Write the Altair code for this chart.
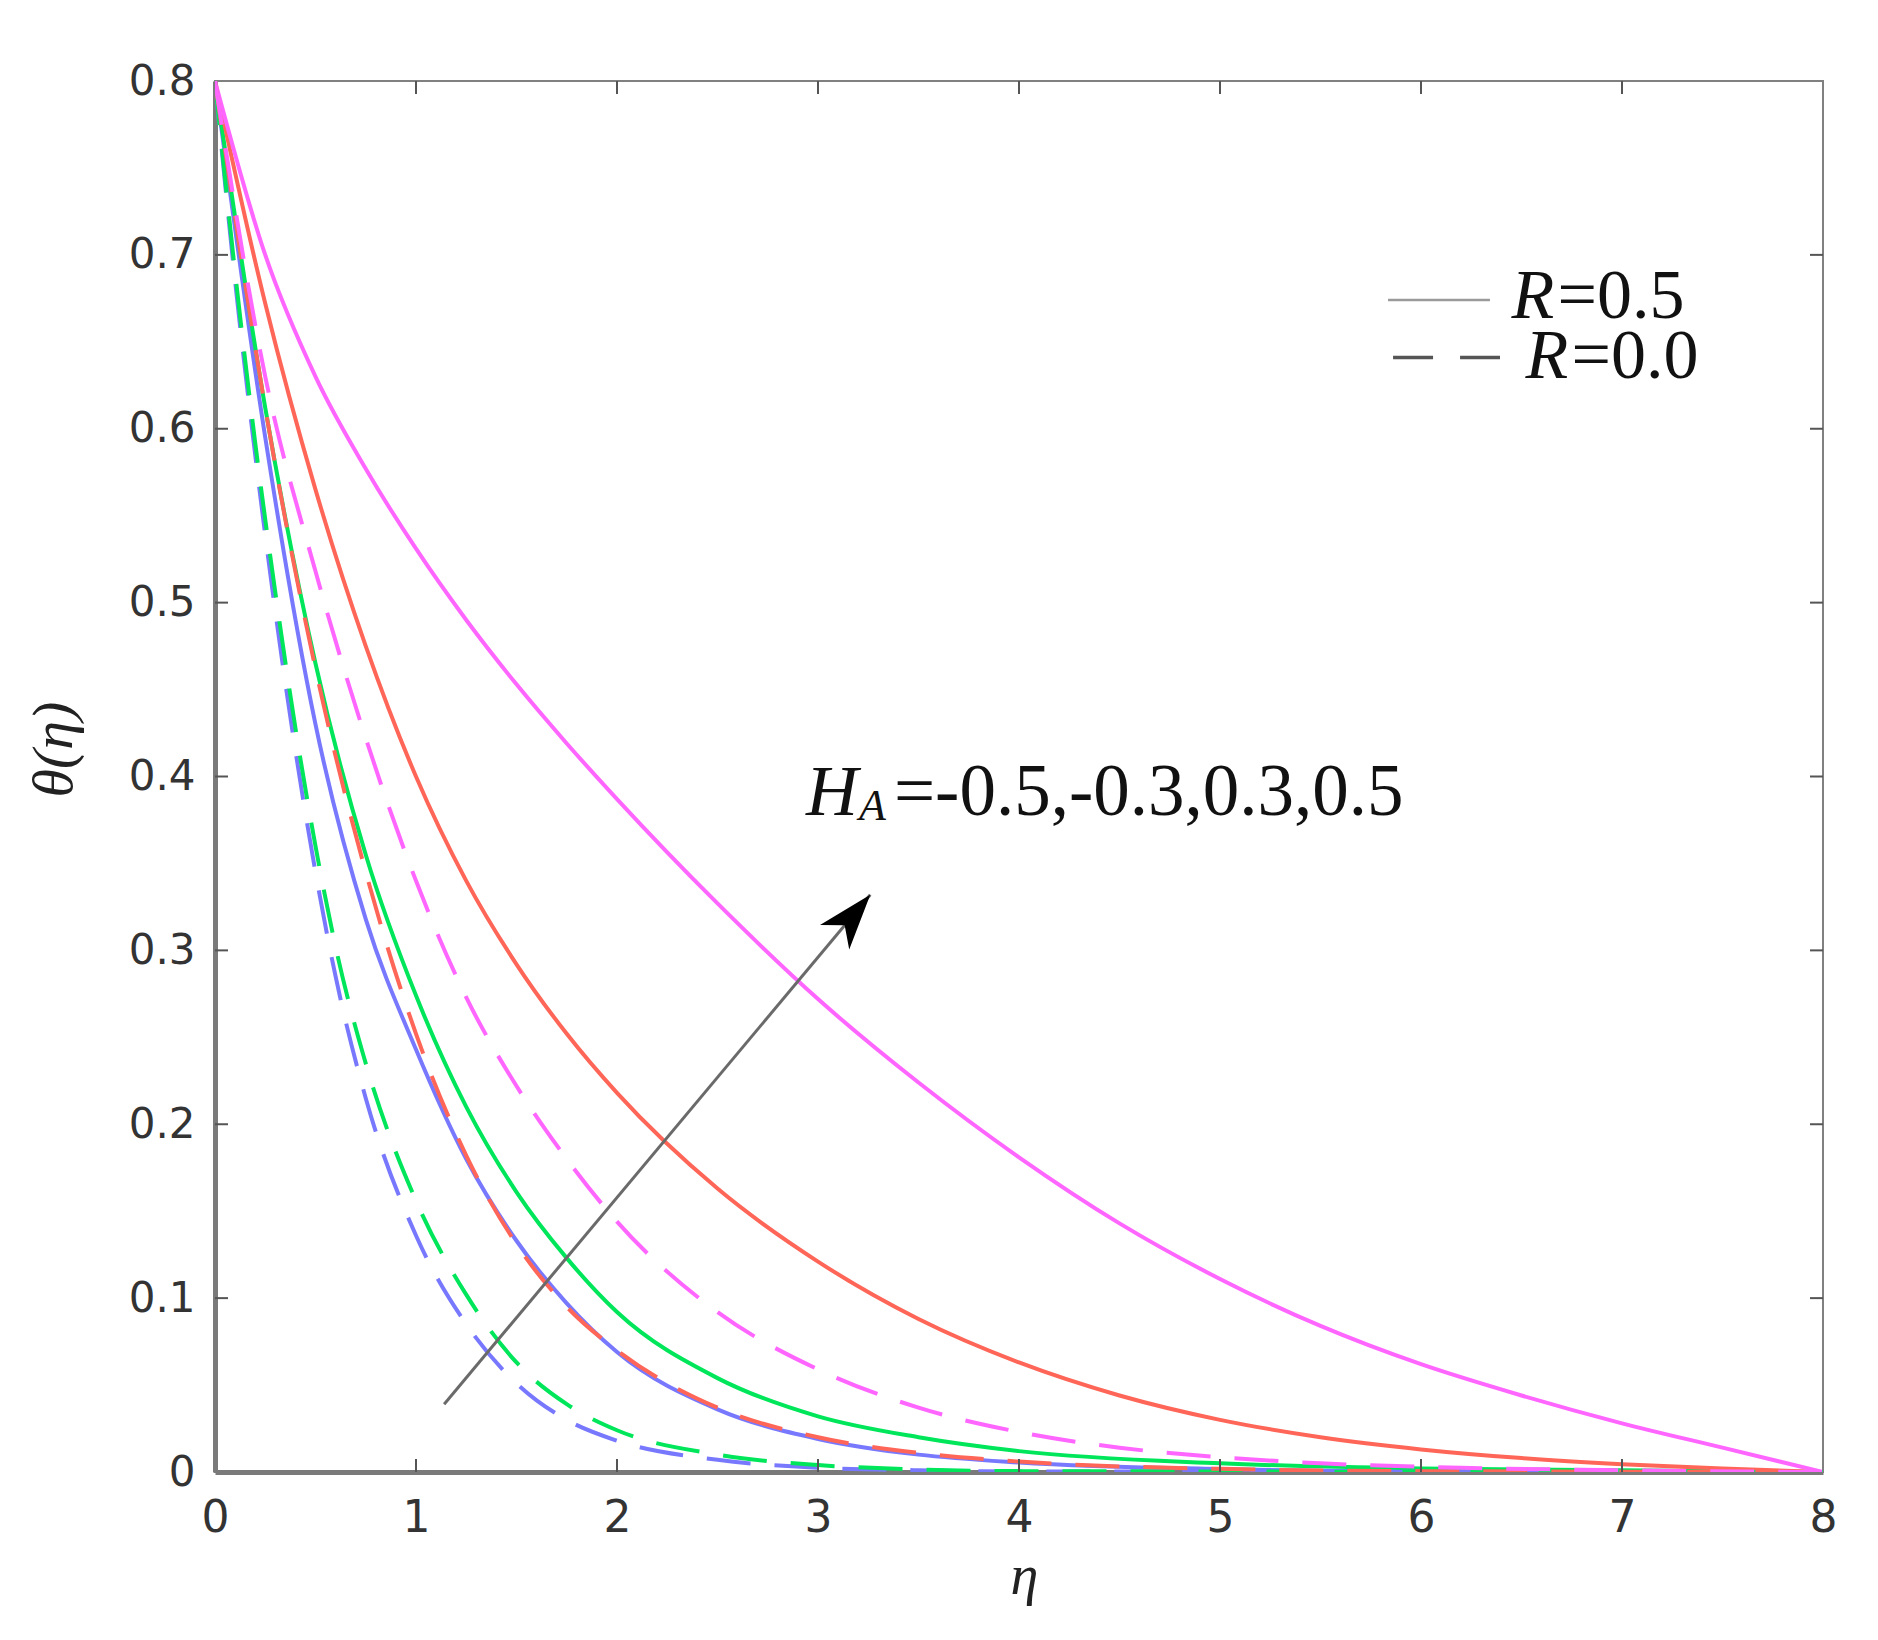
import altair as alt
import pandas as pd

W, H = 1608, 1391

X_TICKS = [0, 1, 2, 3, 4, 5, 6, 7, 8]
Y_TICKS = [0, 0.1, 0.2, 0.3, 0.4, 0.5, 0.6, 0.7, 0.8]

# ---- curves: theta(eta) ----
# R = 0.5 (solid)
ETA_MAG_S = [0, 0.25, 0.5, 0.75, 1, 1.25, 1.5, 1.75, 2, 2.5, 3, 3.5, 4, 4.5, 5, 5.5, 6, 6.5, 7, 7.5, 8]
TH_MAG_S = [0.800, 0.700, 0.630, 0.577, 0.531, 0.490, 0.453, 0.419, 0.387, 0.327, 0.272, 0.224, 0.181,
            0.143, 0.111, 0.084, 0.062, 0.044, 0.028, 0.014, 0.0]
ETA_RED_S = [0, 0.25, 0.5, 0.75, 1, 1.25, 1.5, 1.75, 2, 2.5, 3, 3.5, 4, 4.5, 5, 5.5, 6, 6.5, 7, 7.5, 8]
TH_RED_S = [0.800, 0.672, 0.565, 0.475, 0.400, 0.340, 0.292, 0.252, 0.218, 0.163, 0.121, 0.088, 0.063,
            0.044, 0.030, 0.020, 0.013, 0.008, 0.0045, 0.002, 0.0]
ETA_GRN_S = [0, 0.25, 0.5, 0.75, 1, 1.25, 1.5, 1.75, 2, 2.5, 3, 3.5, 4, 5, 6, 7, 8]
TH_GRN_S = [0.800, 0.612, 0.465, 0.355, 0.274, 0.210, 0.161, 0.123, 0.092, 0.054, 0.032, 0.020, 0.012,
            0.005, 0.002, 0.001, 0.0]
ETA_BLU_S = [0, 0.25, 0.5, 0.75, 1, 1.25, 1.5, 1.75, 2, 2.5, 3, 3.5, 4, 5, 6, 8]
TH_BLU_S = [0.800, 0.595, 0.430, 0.318, 0.243, 0.180, 0.133, 0.097, 0.069, 0.036, 0.019, 0.010, 0.0055,
            0.0017, 0.0005, 0.0]
# R = 0.0 (dashed)
ETA_MAG_D = [0, 0.25, 0.5, 0.75, 1, 1.25, 1.5, 1.75, 2, 2.5, 3, 3.5, 4, 4.5, 5, 5.5, 6, 7, 8]
TH_MAG_D = [0.800, 0.630, 0.518, 0.422, 0.340, 0.273, 0.222, 0.180, 0.144, 0.092, 0.059, 0.037, 0.023,
            0.014, 0.0085, 0.005, 0.003, 0.001, 0.0]
ETA_RED_D = [0, 0.25, 0.5, 0.75, 1, 1.25, 1.5, 1.75, 2, 2.5, 3, 3.5, 4, 5, 6, 8]
TH_RED_D = [0.800, 0.612, 0.462, 0.345, 0.252, 0.182, 0.131, 0.095, 0.070, 0.037, 0.020, 0.011, 0.006,
            0.0018, 0.0005, 0.0]
ETA_GRN_D = [0, 0.1, 0.2, 0.3, 0.4, 0.5, 0.6, 0.75, 1, 1.25, 1.5, 1.75, 2, 2.5, 3, 3.5, 4, 8]
TH_GRN_D = [0.800, 0.690, 0.592, 0.506, 0.428, 0.360, 0.302, 0.235, 0.156, 0.102, 0.063, 0.039, 0.024,
            0.010, 0.004, 0.0015, 0.0005, 0.0]
ETA_BLU_D = [0, 0.1, 0.2, 0.3, 0.4, 0.5, 0.6, 0.75, 1, 1.25, 1.5, 1.75, 2, 2.5, 3, 3.5, 4, 8]
TH_BLU_D = [0.800, 0.685, 0.585, 0.495, 0.415, 0.345, 0.285, 0.215, 0.136, 0.085, 0.051, 0.030, 0.018,
            0.007, 0.0025, 0.001, 0.0003, 0.0]

MAGENTA, RED, GREEN, BLUE = "#ff66ff", "#ff6658", "#00e65a", "#7878ff"
DASH = [44, 24]

SERIES = [
    (ETA_BLU_S, TH_BLU_S, BLUE, None),
    (ETA_GRN_S, TH_GRN_S, GREEN, None),
    (ETA_RED_S, TH_RED_S, RED, None),
    (ETA_MAG_S, TH_MAG_S, MAGENTA, None),
    (ETA_BLU_D, TH_BLU_D, BLUE, DASH),
    (ETA_GRN_D, TH_GRN_D, GREEN, DASH),
    (ETA_RED_D, TH_RED_D, RED, DASH),
    (ETA_MAG_D, TH_MAG_D, MAGENTA, DASH),
]

# annotation arrow (tail -> tip) and label
ARROW_ETA = [1.14, 3.26]
ARROW_TH = [0.039, 0.332]
HA_LABEL_POS = (2.94, 0.378)
HA_VALUES = "=-0.5,-0.3,0.3,0.5"

# in-plot legend
LEG_SOLID = (5.836, 6.343, 0.674)
LEG_DASH = (5.861, 6.393, 0.641)
LEG_TXT1 = (6.45, 0.6636, "=0.5")
LEG_TXT2 = (6.52, 0.629, "=0.0")

xs = alt.Scale(domain=[0, 8], nice=False, zero=False)
ys = alt.Scale(domain=[0, 0.8], nice=False, zero=False)

x_axis = alt.Axis(values=X_TICKS, format="d", title="η", ticks=False, tickSize=0, grid=False,
                  labelFont="DejaVu Sans", labelFontSize=44, labelColor="#333333",
                  labelPadding=24, labelFlush=False, labelOverlap=False,
                  domainColor="#7a7a7a", domainWidth=5,
                  titleFont="Liberation Serif", titleFontStyle="italic", titleFontWeight="normal",
                  titleFontSize=56, titleColor="#222222", titleX=809, titleY=104,
                  titleAlign="center", titleBaseline="middle")
y_axis = alt.Axis(values=Y_TICKS, format=".1~f", title="θ(η)", ticks=False, tickSize=0, grid=False,
                  labelFont="DejaVu Sans", labelFontSize=42, labelColor="#333333",
                  labelPadding=20, labelFlush=False, labelOverlap=False,
                  domainColor="#7a7a7a", domainWidth=5,
                  titleFont="Liberation Serif", titleFontStyle="italic", titleFontWeight="normal",
                  titleFontSize=58, titleColor="#222222", titleX=-161, titleY=668,
                  titleAngle=270, titleAlign="center", titleBaseline="middle")

layers = []
for i, (etas, ths, col, dash) in enumerate(SERIES):
    d = pd.DataFrame({"eta": etas, "theta": ths})
    kw = dict(color=col, strokeWidth=4, interpolate="monotone", clip=True)
    if dash:
        kw["strokeDash"] = dash
    if i == 0:
        enc = dict(x=alt.X("eta:Q", scale=xs, axis=x_axis), y=alt.Y("theta:Q", scale=ys, axis=y_axis))
    else:
        enc = dict(x=alt.X("eta:Q", scale=xs), y=alt.Y("theta:Q", scale=ys))
    layers.append(alt.Chart(d).mark_line(**kw).encode(**enc))

# inward ticks on all four sides
tx = pd.DataFrame({"eta": X_TICKS[1:-1]})
ty = pd.DataFrame({"theta": Y_TICKS[1:-1]})
tick_kw = dict(color="#555555", strokeWidth=2)
layers.append(alt.Chart(tx).mark_rule(**tick_kw).encode(
    x=alt.X("eta:Q", scale=xs), y=alt.value(H), y2=alt.value(H - 13)))
layers.append(alt.Chart(tx).mark_rule(**tick_kw).encode(
    x=alt.X("eta:Q", scale=xs), y=alt.value(0), y2=alt.value(13)))
layers.append(alt.Chart(ty).mark_rule(**tick_kw).encode(
    y=alt.Y("theta:Q", scale=ys), x=alt.value(0), x2=alt.value(13)))
layers.append(alt.Chart(ty).mark_rule(**tick_kw).encode(
    y=alt.Y("theta:Q", scale=ys), x=alt.value(W), x2=alt.value(W - 13)))

# arrow
arr = pd.DataFrame({"eta": [ARROW_ETA[0]], "theta": [ARROW_TH[0]],
                    "eta2": [ARROW_ETA[1]], "theta2": [ARROW_TH[1]]})
layers.append(alt.Chart(arr).mark_rule(color="#6a6a6a", strokeWidth=3).encode(
    x=alt.X("eta:Q", scale=xs), y=alt.Y("theta:Q", scale=ys), x2="eta2:Q", y2="theta2:Q"))
tip = pd.DataFrame({"eta": [ARROW_ETA[1]], "theta": [ARROW_TH[1]]})
layers.append(alt.Chart(tip).mark_point(
    shape="M0,0 L0.55,1.6 L0,1.15 L-0.55,1.6 Z", size=4800, angle=40,
    filled=True, color="#000000", opacity=1, strokeWidth=0).encode(
    x=alt.X("eta:Q", scale=xs), y=alt.Y("theta:Q", scale=ys)))

# H_A label
lab = pd.DataFrame({"eta": [HA_LABEL_POS[0]], "theta": [HA_LABEL_POS[1]]})
serif = "Liberation Serif"
layers.append(alt.Chart(lab).mark_text(text="H", font=serif, fontStyle="italic", fontSize=72,
                                       align="left", baseline="alphabetic", color="#111111").encode(
    x=alt.X("eta:Q", scale=xs), y=alt.Y("theta:Q", scale=ys)))
layers.append(alt.Chart(lab).mark_text(text="A", font=serif, fontStyle="italic", fontSize=44,
                                       align="left", baseline="alphabetic", dx=53, dy=5,
                                       color="#111111").encode(
    x=alt.X("eta:Q", scale=xs), y=alt.Y("theta:Q", scale=ys)))
layers.append(alt.Chart(lab).mark_text(text=HA_VALUES, font=serif, fontSize=73,
                                       align="left", baseline="alphabetic", dx=88,
                                       color="#111111").encode(
    x=alt.X("eta:Q", scale=xs), y=alt.Y("theta:Q", scale=ys)))

# legend lines
leg1 = pd.DataFrame({"eta": [LEG_SOLID[0]], "eta2": [LEG_SOLID[1]], "theta": [LEG_SOLID[2]]})
leg2 = pd.DataFrame({"eta": [LEG_DASH[0]], "eta2": [LEG_DASH[1]], "theta": [LEG_DASH[2]]})
layers.append(alt.Chart(leg1).mark_rule(color="#9a9a9a", strokeWidth=2.5).encode(
    x=alt.X("eta:Q", scale=xs), x2="eta2:Q", y=alt.Y("theta:Q", scale=ys)))
layers.append(alt.Chart(leg2).mark_rule(color="#555555", strokeWidth=3.5, strokeDash=[40, 27]).encode(
    x=alt.X("eta:Q", scale=xs), x2="eta2:Q", y=alt.Y("theta:Q", scale=ys)))
for (le, lt, rest) in [LEG_TXT1, LEG_TXT2]:
    d = pd.DataFrame({"eta": [le], "theta": [lt]})
    layers.append(alt.Chart(d).mark_text(text="R", font=serif, fontStyle="italic", fontSize=70,
                                         align="left", baseline="alphabetic", color="#111111").encode(
        x=alt.X("eta:Q", scale=xs), y=alt.Y("theta:Q", scale=ys)))
    layers.append(alt.Chart(d).mark_text(text=rest, font=serif, fontSize=70, dx=46,
                                         align="left", baseline="alphabetic", color="#111111").encode(
        x=alt.X("eta:Q", scale=xs), y=alt.Y("theta:Q", scale=ys)))

chart = alt.layer(*layers).properties(
    width=W, height=H,
    autosize=alt.AutoSizeParams(type="none"),
    padding={"left": 207, "top": 73, "right": 40, "bottom": 151},
    background="white",
).configure_view(stroke="#808080", strokeWidth=2)

chart.save("out.html", embed_options={"renderer": "svg", "actions": False})
